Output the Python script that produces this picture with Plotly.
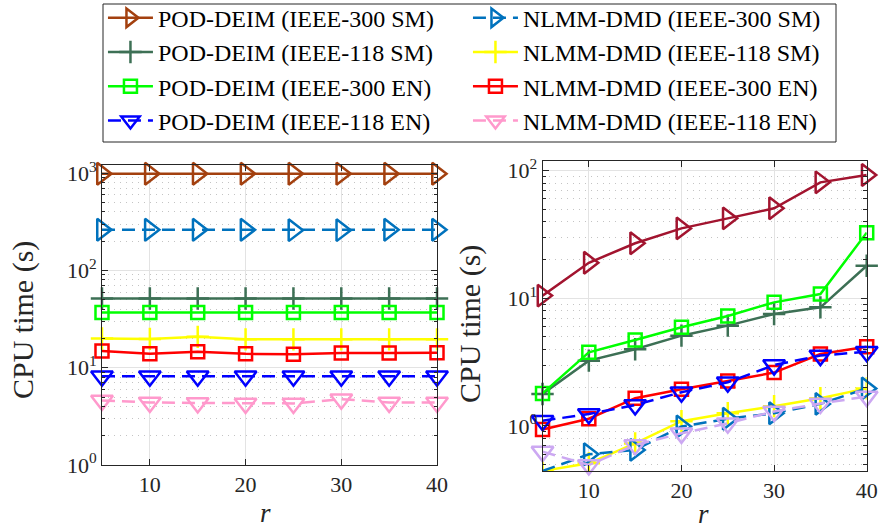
import plotly.graph_objects as go

# reduced order r
r = [5, 10, 15, 20, 25, 30, 35, 40]

# left panel: CPU time (s)
left_pd300_sm = [990, 990, 990, 990, 990, 990, 990, 990]
left_nl300_sm = [262, 262, 262, 262, 260, 260, 262, 262]
left_pd118_sm = [51.5, 51.5, 51.5, 51.5, 51.5, 51.5, 51.5, 51.5]
left_nl118_sm = [20.0, 19.8, 20.8, 19.6, 19.6, 19.6, 19.6, 19.6]
left_pd300_en = [37.0, 37.0, 37.0, 37.0, 37.0, 37.0, 37.0, 37.0]
left_nl300_en = [14.9, 13.9, 14.6, 13.9, 13.8, 14.2, 14.2, 14.3]
left_pd118_en = [8.2, 8.2, 8.2, 8.2, 8.2, 8.2, 8.2, 8.2]
left_nl118_en = [4.6, 4.4, 4.35, 4.3, 4.3, 4.75, 4.4, 4.4]

# right panel: CPU time (s)
right_pd300_sm = [10.5, 19.0, 27.0, 35.3, 42.3, 50.7, 81.0, 92.5]
right_pd300_en = [1.80, 3.78, 4.72, 5.93, 7.27, 9.30, 10.8, 32.7]
right_pd118_sm = [1.78, 3.25, 3.99, 5.10, 6.11, 7.54, 8.50, 18.0]
right_nl300_en = [0.94, 1.14, 1.65, 1.94, 2.25, 2.62, 3.66, 4.18]
right_pd118_en = [1.10, 1.24, 1.46, 1.84, 2.20, 3.00, 3.56, 3.82]
right_nl118_sm = [0.445, 0.51, 0.73, 1.09, 1.26, 1.43, 1.65, 1.97]
right_nl300_sm = [0.444, 0.60, 0.65, 0.99, 1.14, 1.26, 1.49, 1.97]
right_nl118_en = [0.63, 0.495, 0.71, 0.876, 1.05, 1.30, 1.50, 1.70]

names = [
    "POD-DEIM (IEEE-300 SM)", "NLMM-DMD (IEEE-300 SM)",
    "POD-DEIM (IEEE-118 SM)", "NLMM-DMD (IEEE-118 SM)",
    "POD-DEIM (IEEE-300 EN)", "NLMM-DMD (IEEE-300 EN)",
    "POD-DEIM (IEEE-118 EN)", "NLMM-DMD (IEEE-118 EN)",
]

FONT = "Liberation Serif"
LW = 2.5
DASH = "13px,7px"

TRI_R = dict(symbol="triangle-right-open", size=19)
TRI_D = dict(symbol="triangle-down-open", size=19)
SQR = dict(symbol="square-open", size=13)
PLUS = dict(symbol="cross-thin-open", size=16)

fig = go.Figure()


def add(y, name, color, mk, dash="solid", xa="x", ya="y", legend=True, clip=False):
    fig.add_trace(go.Scatter(
        x=r, y=y, name=name, mode="lines+markers",
        line=dict(color=color, width=LW, dash=dash),
        marker=dict(symbol=mk["symbol"], size=mk["size"], color=color,
                    line=dict(color=color, width=LW)),
        xaxis=xa, yaxis=ya, showlegend=legend, cliponaxis=clip,
    ))


# left panel (these also build the legend, two entries per row)
add(left_pd300_sm, names[0], "#A3400F", TRI_R)
add(left_nl300_sm, names[1], "#0072BD", TRI_R, DASH)
add(left_pd118_sm, names[2], "#3D7055", PLUS)
add(left_nl118_sm, names[3], "#FFFF00", PLUS)
add(left_pd300_en, names[4], "#00FF00", SQR)
add(left_nl300_en, names[5], "#FF0000", SQR)
add(left_pd118_en, names[6], "#0000FF", TRI_D, DASH)
add(left_nl118_en, names[7], "#FF99CC", TRI_D, DASH)

# right panel
add(right_nl118_sm, names[3], "#FFFF00", PLUS, xa="x2", ya="y2", legend=False, clip=True)
add(right_nl300_sm, names[1], "#0072BD", TRI_R, DASH, "x2", "y2", False)
add(right_nl118_en, names[7], "#CCA8F2", TRI_D, DASH, "x2", "y2", False)
add(right_pd300_sm, names[0], "#A2142F", TRI_R, xa="x2", ya="y2", legend=False)
add(right_pd118_sm, names[2], "#3D7055", PLUS, xa="x2", ya="y2", legend=False)
add(right_pd300_en, names[4], "#00FF00", SQR, xa="x2", ya="y2", legend=False)
add(right_nl300_en, names[5], "#FF0000", SQR, xa="x2", ya="y2", legend=False)
add(right_pd118_en, names[6], "#0000FF", TRI_D, DASH, "x2", "y2", False)

AX = "#262626"
GRID = "#E3E3E3"
MINOR_GRID = "#C4C4C4"
tickfont = dict(family=FONT, size=22, color=AX)

xcommon = dict(
    range=[5, 40], tickvals=[10, 20, 30, 40], ticktext=["10", "20", "30", "40"],
    showline=True, linecolor=AX, linewidth=1, mirror="ticks",
    ticks="inside", ticklen=6, tickcolor=AX, tickfont=tickfont,
    showgrid=True, gridcolor=GRID, gridwidth=1, zeroline=False, automargin=False,
)

ycommon = dict(
    type="log",
    showline=True, linecolor=AX, linewidth=1, mirror="ticks",
    ticks="inside", ticklen=6, tickcolor=AX, tickfont=tickfont,
    showgrid=True, gridcolor=GRID, gridwidth=1, zeroline=False, automargin=False,
    minor=dict(dtick="D1", ticks="inside", ticklen=3.5, tickcolor=AX,
               showgrid=True, gridcolor=MINOR_GRID, griddash="1.5px,4.5px", gridwidth=1),
)


def label(text, x, y, size, angle=0):
    return dict(text=text, x=x / 880, y=1 - y / 530, xref="paper", yref="paper",
                xanchor="center", yanchor="middle", textangle=angle, showarrow=False,
                font=dict(family=FONT, size=size, color=AX))


fig.update_layout(
    width=880, height=530,
    margin=dict(l=0, r=0, t=0, b=0, autoexpand=False),
    paper_bgcolor="white", plot_bgcolor="white",
    font=dict(family=FONT, color="black"),
    xaxis=dict(domain=[0.1159, 0.4966], anchor="y", **xcommon),
    yaxis=dict(domain=[0.1226, 0.6887], anchor="x", range=[0, 3.085],
               tickvals=[1, 10, 100, 1000],
               ticktext=["10<sup>0</sup>", "10<sup>1</sup>", "10<sup>2</sup>", "10<sup>3</sup>"],
               **ycommon),
    xaxis2=dict(domain=[0.6165, 0.9849], anchor="y2", **xcommon),
    yaxis2=dict(domain=[0.1113, 0.6968], anchor="x2", range=[-0.3526, 2.078],
                tickvals=[1, 10, 100],
                ticktext=["10<sup>0</sup>", "10<sup>1</sup>", "10<sup>2</sup>"],
                **ycommon),
    legend=dict(
        orientation="h", x=0.117, y=1.008, xanchor="left", yanchor="top",
        bgcolor="rgba(0,0,0,0)", borderwidth=0,
        font=dict(family=FONT, size=24, color="black"),
        entrywidth=305, entrywidthmode="pixels", itemwidth=45,
    ),
    # legend frame
    shapes=[dict(type="rect", xref="paper", yref="paper",
                 x0=103 / 880, x1=836 / 880, y0=1 - 142 / 530, y1=1 - 4 / 530,
                 line=dict(color=AX, width=1), fillcolor="white", layer="below")],
    annotations=[
        label("CPU time (s)", 23, 320, 30, -90),
        label("CPU time (s)", 470, 324, 30, -90),
        label("<i>r</i>", 265, 513, 27),
        label("<i>r</i>", 703, 514, 27),
    ],
)

fig.write_html("out.html")
